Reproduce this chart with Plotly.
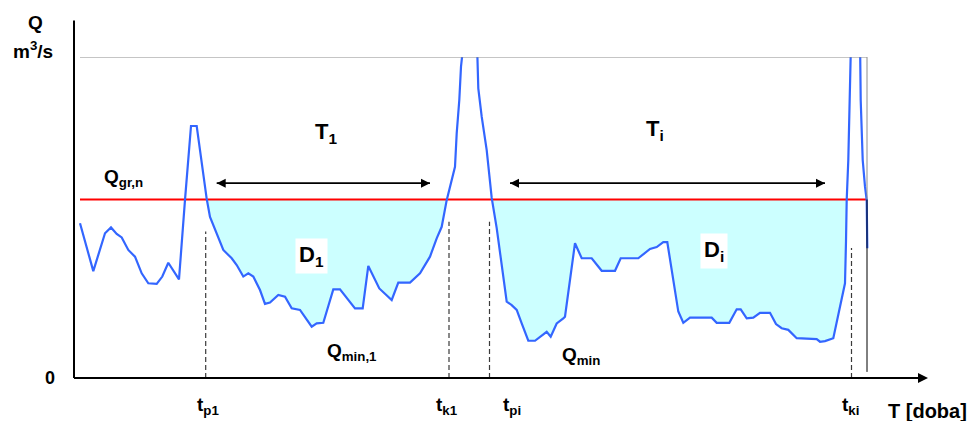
import numpy as np
import plotly.graph_objects as go

# ---------------- data (time in days, discharge Q in m3/s) ----------------
t = [6, 19.3, 31, 37, 42.7, 47.7, 54.3, 61, 67.7, 74.3, 82.7, 88.3, 94.3, 105, 111, 117, 122.7,
     132.7, 136, 142.7, 149.3, 157.7, 162.7, 169.3, 174.3, 179.3, 186, 191, 196, 204.3, 211,
     217.7, 226, 237.7, 242.7, 249.3, 259.3, 266, 281, 288.7, 294.3, 305.3, 317.7, 324.3, 336,
     346, 356, 362.7, 367.7, 372.7, 377.7, 381, 382.7, 385.3, 387, 391.5, 396, 402.5, 404.3,
     407.7, 412.7, 417.7, 422.7, 427.7, 432.7, 437.7, 442.7, 447.7, 454.3, 461, 467.7, 472.7,
     476.7, 482.7, 489.3, 491, 501, 507.7, 517.7, 527.7, 541, 546.7, 564.3, 576, 582.7, 589.3,
     593.3, 599.3, 604.3, 609.3, 616, 637.7, 642.7, 655.3, 662.7, 666.7, 672.7, 679.3, 686, 696,
     702, 707.7, 714.3, 722.7, 742.7, 746, 751, 759.3, 764.3, 771, 772, 772.7, 774.3, 775.3,
     777.5, 781.5, 785.8, 786.7, 788.7, 791, 792.7, 793.3]
Q = [48.2, 33.3, 45.1, 46.9, 44.9, 43.8, 39.9, 37.8, 32.6, 29.5, 29.3, 31.6, 35.9, 30.7, 55.5, 78.5, 78.5,
     55.8, 50.2, 45.1, 39.9, 37.3, 35.2, 31.6, 32.6, 31.6, 27.4, 23.1, 23.5, 25.9, 25.3,
     21.7, 21.2, 16.0, 17.0, 17.2, 27.6, 27.6, 21.7, 21.7, 34.9, 27.9, 24.3, 29.7, 29.7,
     32.6, 37.8, 43.5, 47.1, 55.4, 61.7, 65.8, 76.2, 86.6, 97.0, 110.0, 116.2, 110.0, 90.2,
     81.4, 71.0, 56.1, 46.7, 35.7, 23.8, 22.7, 21.2, 17.0, 11.6, 11.6, 13.1, 14.4,
     12.9, 17.0, 18.6, 19.1, 42.0, 37.3, 37.3, 33.4, 33.4, 37.3, 37.3, 40.2, 40.8, 42.3,
     42.3, 31.2, 20.7, 17.2, 18.8, 18.8, 17.2, 17.2, 21.4, 21.4, 18.6, 18.8, 20.3, 20.3,
     16.8, 15.5, 15.0, 12.4, 12.1, 11.3, 11.5, 12.4, 20.2, 29.5, 42.5, 55.4, 67.9, 86.6,
     111.5, 120.9, 111.5, 86.6, 67.9, 59.6, 55.4, 40.4]

Q_gr = 55.6            # threshold discharge Q_gr,n
Q_frame = 100          # upper frame line
t_frame = [6, 793]     # extent of threshold / frame lines

event_t = [131.7, 375, 415.5, 777.5]          # t_p1, t_k1, t_pi, t_ki
event_top = [45.6, 48.7, 48.7, 40.5]
event_labels = ["t<sub>p1</sub>", "t<sub>k1</sub>", "t<sub>pi</sub>", "t<sub>ki</sub>"]
event_label_t = [133.5, 373, 438, 776]

period_start = [142.7, 436]
period_end = [356, 751]
period_q = 60.7
period_labels = ["T<sub>1</sub>", "T<sub>i</sub>"]
period_label_t = [252, 581]
period_label_q = [76.3, 77.3]

deficit_labels = ["D<sub>1</sub>", "D<sub>i</sub>"]
deficit_t = [237, 639.5]
deficit_q = [38.0, 39.7]

qmin_labels = ["Q<sub>min,1</sub>", "Q<sub>min</sub>"]
qmin_t = [278, 507]
qmin_q = [8.1, 6.9]

# ---------------- figure ----------------
X_MAX = 854
Y_MAX = 100
Y_ARROW = 113.4
tt = np.array(t, dtype=float)
qq = np.array(Q, dtype=float)

BLUE = "#3366FF"
FILL = "#CCFFFF"
FONT = "Liberation Sans, Arial, sans-serif"

fig = go.Figure()

# deficit (drought) areas below threshold
below = qq < Q_gr
runs = []
i = 0
n = len(qq)
while i < n:
    if below[i]:
        j = i
        while j + 1 < n and below[j + 1]:
            j += 1
        runs.append((i, j))
        i = j + 1
    else:
        i += 1


def cross(a, b):
    f = (Q_gr - qq[a]) / (qq[b] - qq[a])
    return tt[a] + f * (tt[b] - tt[a])


for (a, b) in runs:
    if a == 0 or b == n - 1:
        continue
    xs = [cross(a - 1, a)] + list(tt[a:b + 1]) + [cross(b, b + 1)]
    ys = [Q_gr] + list(qq[a:b + 1]) + [Q_gr]
    fig.add_trace(go.Scatter(x=xs, y=ys, fill="toself", fillcolor=FILL,
                             mode="lines", line=dict(width=0), hoverinfo="skip",
                             showlegend=False))

# threshold line
fig.add_trace(go.Scatter(x=t_frame, y=[Q_gr, Q_gr], mode="lines",
                         line=dict(color="#FF0000", width=2.2), showlegend=False))

# hydrograph
fig.add_trace(go.Scatter(x=t, y=Q, mode="lines", line=dict(color=BLUE, width=2.2),
                         showlegend=False))

# period double arrows
for s, e in zip(period_start, period_end):
    fig.add_trace(go.Scatter(x=[s, e], y=[period_q, period_q], mode="lines+markers",
                             line=dict(color="black", width=1.6),
                             marker=dict(symbol=["arrow-left", "arrow-right"], size=9,
                                         color="black", line=dict(width=0)),
                             showlegend=False, hoverinfo="skip"))

# axis arrow heads
fig.add_trace(go.Scatter(x=[0, X_MAX], y=[Y_ARROW, 0], mode="markers", cliponaxis=False,
                         marker=dict(symbol=["arrow-up", "arrow-right"], size=10,
                                     color="black", line=dict(width=0)),
                         showlegend=False, hoverinfo="skip"))

shapes = []
# frame lines
shapes.append(dict(type="line", x0=t_frame[0], x1=t_frame[1], y0=Q_frame, y1=Q_frame,
                   line=dict(color="#8C8C8C", width=1)))
shapes.append(dict(type="line", x0=t_frame[1], x1=t_frame[1], y0=Q_gr, y1=Q_frame,
                   line=dict(color="#8C8C8C", width=1)))
shapes.append(dict(type="line", x0=t_frame[1], x1=t_frame[1], y0=1.9, y1=Q_gr,
                   line=dict(color="#000000", width=1)))
# event dashed lines
for et, top in zip(event_t, event_top):
    shapes.append(dict(type="line", x0=et, x1=et, y0=0, y1=top,
                       line=dict(color="#3A3A3A", width=1.2, dash="5px,3px")))
# axes lines
shapes.append(dict(type="line", xref="paper", yref="paper", x0=0, x1=0, y0=0,
                   y1=(Y_ARROW - 2) / Y_MAX, line=dict(color="black", width=2)))
shapes.append(dict(type="line", xref="paper", yref="paper", x0=0, x1=(X_MAX - 4) / X_MAX,
                   y0=0, y1=0, line=dict(color="black", width=2)))

ann = []


def label(txt, x, y, size, bg=None):
    d = dict(x=x / X_MAX, y=y / Y_MAX, xref="paper", yref="paper", text="<b>" + txt + "</b>",
             showarrow=False, font=dict(family=FONT, size=size, color="black"),
             xanchor="center", yanchor="middle")
    if bg:
        d["bgcolor"] = bg
        d["borderpad"] = 3
    return d


for lab, x, y in zip(period_labels, period_label_t, period_label_q):
    ann.append(label(lab, x, y, 22))
for lab, x, y in zip(deficit_labels, deficit_t, deficit_q):
    ann.append(label(lab, x, y, 22, bg="white"))
for lab, x, y in zip(qmin_labels, qmin_t, qmin_q):
    ann.append(label(lab, x, y, 19))
ann.append(label("Q<sub>gr,n</sub>", 49, 62.3, 19))
for lab, x in zip(event_labels, event_label_t):
    ann.append(label(lab, x, -8.6, 19))
ann.append(label("T [doba]", 853, -10.3, 20))
ann.append(label("0", -24, 0, 18))
ann.append(label("Q", -39, 110.6, 19))
ann.append(label("m<sup>3</sup>/s", -41, 102.3, 19))

fig.update_layout(
    width=974, height=421, autosize=False,
    margin=dict(l=74, r=46, t=57, b=43, pad=0),
    paper_bgcolor="white", plot_bgcolor="white",
    xaxis=dict(range=[0, X_MAX], showgrid=False, zeroline=False, showticklabels=False,
               showline=False, ticks=""),
    yaxis=dict(range=[0, Y_MAX], showgrid=False, zeroline=False, showticklabels=False,
               showline=False, ticks=""),
    shapes=shapes, annotations=ann, showlegend=False,
)

fig.write_html("out.html")
